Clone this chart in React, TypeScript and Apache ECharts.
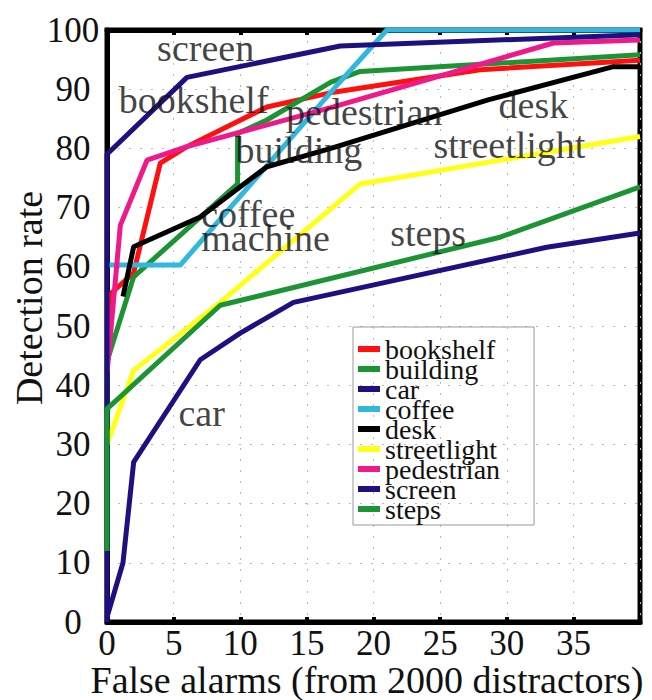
import React, { useEffect, useRef } from "react";
import * as echarts from "echarts";

const seriesNames = ["bookshelf", "building", "car", "coffee", "desk", "streetlight", "pedestrian", "screen", "steps"];
const seriesColors = ["#ff1010", "#1c9434", "#1e1080", "#33b8dd", "#000000", "#ffff1a", "#ee1a8c", "#1e1080", "#1c9434"];

const bookshelf = [[0, 50], [0.3, 55.5], [2, 59], [4, 77.5], [6, 80.3], [12, 87], [17, 89.5], [28, 93.3], [40, 94.9]];
const building = [[0, 36], [0, 44], [2, 58.3], [9.8, 74], [9.8, 82.5], [12, 84.8], [16.8, 91.2], [19, 93], [40, 95.8]];
const car = [[0, 0.8], [1.2, 10], [2, 27], [7, 44.3], [10, 48.8], [14, 54], [33, 63.3], [40, 65.7]];
const coffee = [[0, 60.3], [5.5, 60.3], [17, 90], [21, 100], [40, 100]];
const desk = [[1.2, 55], [2, 63.4], [7, 68.4], [12, 76.9], [16.8, 80], [28.6, 88.2], [38, 93.8], [40, 93.8]];
const streetlight = [[0, 30], [2, 42.5], [8.5, 54], [19, 74], [40, 82]];
const pedestrian = [[0, 42], [1, 67], [3, 78], [6, 80.3], [17, 87], [33.5, 97.8], [40, 98.3]];
const screen = [[0, 0], [0, 79], [6, 92], [17.5, 97.3], [40, 99.2]];
const steps = [[0, 12], [0, 36], [8.5, 53.5], [29.5, 65], [40, 73.5]];
const seriesData = [bookshelf, building, car, coffee, desk, streetlight, pedestrian, screen, steps];

const annotationNames = ["screen", "bookshelf", "pedestrian", "desk", "building", "streetlight", "coffee", "machine", "steps", "car"];
const annotationX = [7.4, 6.5, 19.3, 32, 14.4, 30.2, 10.6, 11.9, 24.1, 7.1];
const annotationY = [97, 88.2, 86.1, 87.3, 79.7, 80.6, 69, 64.9, 65.7, 35.3];

const xTicks = { min: 0, max: 40, interval: 5 };
const yTicks = { min: 0, max: 100, interval: 10 };

const FONT = "Liberation Serif";

export default function App() {
  const ref = useRef<HTMLDivElement>(null);
  useEffect(() => {
    if (!ref.current) return;
    const chart = echarts.init(ref.current, null, { renderer: "svg" });
    const gridLine = { show: true, lineStyle: { color: "#b8b8b8", type: [2, 9], width: 1 } };
    const lineSeries = seriesNames.map((name, i) => ({
      name,
      type: "line",
      data: seriesData[i],
      showSymbol: false,
      symbol: "none",
      lineStyle: { color: seriesColors[i], width: 5 },
      itemStyle: { color: seriesColors[i] },
      clip: true,
      z: 3,
    }));
    const annotations = {
      name: "annotations",
      type: "scatter",
      symbolSize: 0,
      silent: true,
      z: 5,
      data: annotationNames.map((n, i) => ({ name: n, value: [annotationX[i], annotationY[i]] })),
      label: {
        show: true,
        position: "inside",
        formatter: "{b}",
        fontFamily: FONT,
        fontSize: 38,
        color: "#111",
      },
    };
    chart.setOption({
      animation: false,
      backgroundColor: "#ffffff",
      textStyle: { fontFamily: FONT },
      grid: { left: 107, right: 12, top: 30, bottom: 78, show: true, borderColor: "#000", borderWidth: 5 },
      legend: {
        data: seriesNames,
        orient: "vertical",
        left: 353,
        top: 327,
        icon: "rect",
        itemWidth: 22,
        itemHeight: 6,
        itemGap: -8,
        padding: [8, 34, 2, 5],
        borderColor: "#999",
        borderWidth: 1,
        textStyle: { fontFamily: FONT, fontSize: 28, color: "#111" },
      },
      xAxis: [
        {
          type: "value",
          ...xTicks,
          position: "bottom",
          axisLine: { show: true, lineStyle: { color: "#000", width: 5 } },
          axisTick: { show: true, inside: true, length: 5, lineStyle: { color: "#000", width: 4 } },
          axisLabel: {
            fontFamily: FONT,
            fontSize: 35,
            color: "#111",
            margin: 4,
            formatter: (v: number) => (v === 40 ? "" : String(v)),
          },
          splitLine: gridLine,
        },
        {
          type: "value",
          ...xTicks,
          position: "top",
          axisLine: { show: true, lineStyle: { color: "#000", width: 5 } },
          axisTick: { show: true, inside: true, length: 5, lineStyle: { color: "#000", width: 4 } },
          axisLabel: { show: false },
          splitLine: { show: false },
        },
      ],
      yAxis: {
        type: "value",
        ...yTicks,
        axisLine: { show: true, lineStyle: { color: "#000", width: 5 } },
        axisTick: { show: false },
        axisLabel: {
          fontFamily: FONT,
          fontSize: 35,
          color: "#111",
          margin: 34,
          align: "center",
          padding: [0, 0, 6, 0],
        },
        splitLine: gridLine,
      },
      graphic: [
        {
          type: "text",
          x: 367,
          y: 680,
          style: {
            text: "False alarms (from 2000 distractors)",
            fontFamily: FONT,
            fontSize: 38,
            fill: "#111",
            align: "center",
            verticalAlign: "middle",
          },
        },
        {
          type: "text",
          x: 29,
          y: 298,
          rotation: Math.PI / 2,
          style: {
            text: "Detection rate",
            fontFamily: FONT,
            fontSize: 38,
            fill: "#111",
            align: "center",
            verticalAlign: "middle",
          },
        },
      ],
      series: [...lineSeries, annotations],
    });
    return () => chart.dispose();
  }, []);
  return <div ref={ref} style={{ position: "fixed", left: 0, top: 0, width: 652, height: 700 }} />;
}
